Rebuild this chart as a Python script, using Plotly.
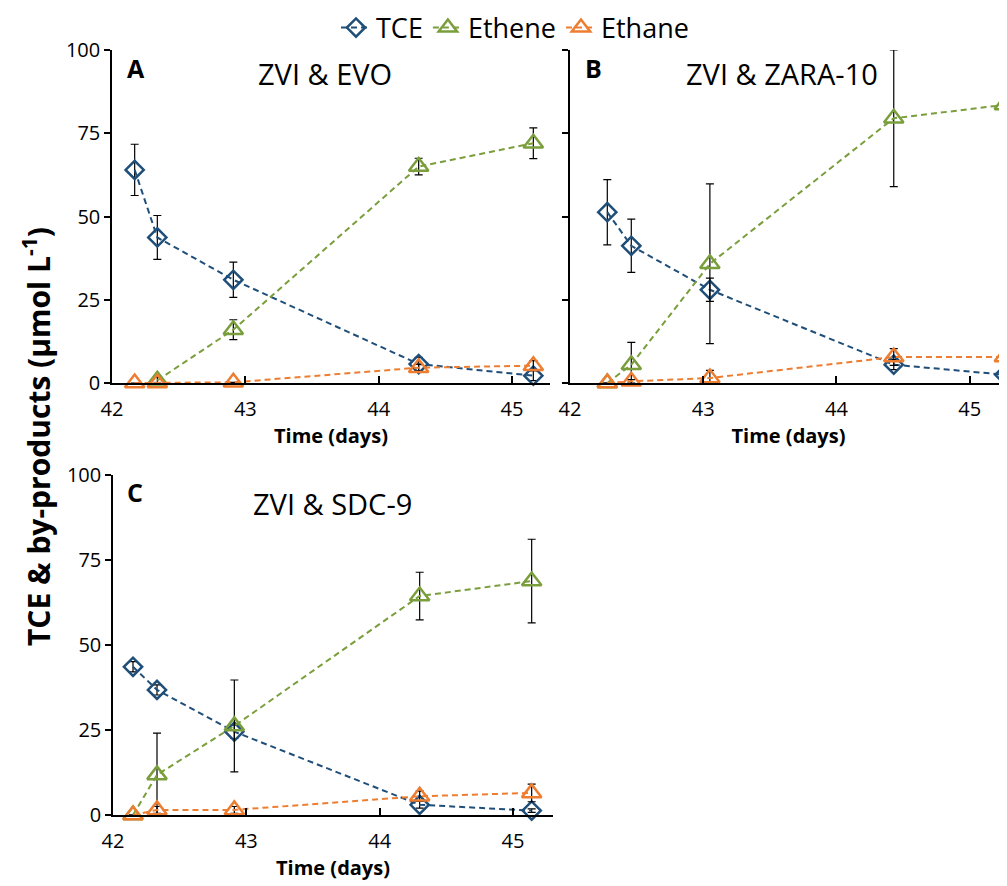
import plotly.graph_objects as go

# ---------------- data ----------------
tA = [42.17, 42.34, 42.91, 44.30, 45.16]
tce_A = [64.0, 43.7, 31.0, 5.7, 2.2]
tce_A_err = [7.7, 6.6, 5.3, 2.0, 1.5]
ethene_A = [None, 0.8, 16.0, 65.0, 72.0]
ethene_A_err = [0, 1.0, 3.0, 2.5, 4.6]
ethane_A = [0.0, 0.0, 0.2, 4.6, 5.2]
ethane_A_err = [0, 0, 0, 1.0, 1.5]

tB = [42.28, 42.46, 43.05, 44.43, 45.26]
tce_B = [51.3, 41.2, 28.0, 5.5, 2.5]
tce_B_err = [9.8, 8.0, 3.5, 1.5, 1.0]
ethene_B = [0.0, 5.5, 35.8, 79.5, 83.5]
ethene_B_err = [0, 6.7, 24.0, 20.5, 12.3]
ethane_B = [0.0, 0.5, 1.5, 7.8, 7.8]
ethane_B_err = [0, 0.5, 2.3, 2.5, 2.5]

tC = [42.15, 42.33, 42.91, 44.30, 45.14]
tce_C = [43.6, 36.8, 24.5, 3.0, 1.3]
tce_C_err = [1.5, 1.5, 2.0, 1.0, 0.5]
ethene_C = [0.0, 11.8, 26.2, 64.4, 68.8]
ethene_C_err = [0, 12.3, 13.5, 7.0, 12.3]
ethane_C = [0.0, 1.5, 1.5, 5.5, 6.5]
ethane_C_err = [0, 1.0, 1.0, 1.5, 2.6]

panel_letters = ["A", "B", "C"]
panel_titles = ["ZVI & EVO", "ZVI & ZARA-10", "ZVI & SDC-9"]
series_names = ["TCE", "Ethene", "Ethane"]
x_ticks = [42, 43, 44, 45]
y_ticks = [0, 25, 50, 75, 100]

# ---------------- styling ----------------
W, H = 1007, 886
OFF_X = 8
OFF_Y = 8
C_TCE = "#1F4E79"
C_ETHENE = "#7A9E3C"
C_ETHANE = "#ED7D31"
FONT = "Open Sans"

def px_x(p):
    return (p - OFF_X) / W

def px_y(p):
    return 1 - (p - OFF_Y) / H

fig = go.Figure()

panels = [
    (tA, [(tce_A, tce_A_err), (ethene_A, ethene_A_err), (ethane_A, ethane_A_err)], "x", "y"),
    (tB, [(tce_B, tce_B_err), (ethene_B, ethene_B_err), (ethane_B, ethane_B_err)], "x2", "y2"),
    (tC, [(tce_C, tce_C_err), (ethene_C, ethene_C_err), (ethane_C, ethane_C_err)], "x3", "y3"),
]
colors = [C_TCE, C_ETHENE, C_ETHANE]
symbols = ["diamond-open", "triangle-up-open", "triangle-up-open"]
sizes = [14, 17, 17]

for pi, (t, series, xa, ya) in enumerate(panels):
    for si, (vals, errs) in enumerate(series):
        fig.add_trace(go.Scatter(
            x=t, y=vals, xaxis=xa, yaxis=ya,
            mode="lines+markers",
            name=series_names[si],
            legendgroup=series_names[si],
            showlegend=(pi == 0),
            line=dict(color=colors[si], width=2, dash="6px,4px"),
            marker=dict(symbol=symbols[si], size=sizes[si], color=colors[si],
                        line=dict(color=colors[si], width=2.5)),
            error_y=dict(type="data", array=errs, visible=True, color="black",
                         thickness=1.2, width=4),
            cliponaxis=False,
            connectgaps=False,
        ))

# axis domains (pixels -> paper)
domains = {
    "A": dict(x=[px_x(112), px_x(550)], y=[px_y(383), px_y(50)], xr=[42, 45.285]),
    "B": dict(x=[px_x(570), px_x(1007)], y=[px_y(383), px_y(50)], xr=[42, 45.28]),
    "C": dict(x=[px_x(113), px_x(553)], y=[px_y(815), px_y(475)], xr=[42, 45.3]),
}

tickfont = dict(family=FONT, size=20, color="black")
axis_names = [("xaxis", "yaxis", "x", "y"), ("xaxis2", "yaxis2", "x2", "y2"), ("xaxis3", "yaxis3", "x3", "y3")]
layout_axes = {}
for i, key in enumerate(["A", "B", "C"]):
    d = domains[key]
    xn, yn, xs, ys = axis_names[i]
    layout_axes[xn] = dict(
        domain=d["x"], range=d["xr"], anchor=ys,
        showline=True, linecolor="black", linewidth=1.5,
        ticks="inside", ticklen=7, tickwidth=1.5, tickcolor="black",
        tickvals=x_ticks, showgrid=False, zeroline=False,
        tickfont=tickfont, automargin=False, ticklabelstandoff=7,
        title=dict(text="<b>Time (days)</b>", font=dict(family=FONT, size=20, color="black"), standoff=5),
    )
    layout_axes[yn] = dict(
        domain=d["y"], range=[0, 100], anchor=xs,
        showline=True, linecolor="black", linewidth=1.5,
        ticks="outside", ticklen=6, tickwidth=1.5, tickcolor="black",
        tickvals=y_ticks, showgrid=False, zeroline=False, automargin=False,
        tickfont=tickfont, showticklabels=(key != "B"),
    )
    # overlay axis for the inner half of the cross ticks
    layout_axes["yaxis%d" % (i + 4)] = dict(
        overlaying=ys, anchor=xs, range=[0, 100], side="left",
        ticks="inside", ticklen=6, tickwidth=1.5, tickcolor="black",
        tickvals=y_ticks, showticklabels=False, showline=False,
        showgrid=False, zeroline=False, automargin=False,
    )

fig.update_layout(**layout_axes)

annotations = []
letter_pos = [(125, 68), (583, 68), (125, 492)]
title_pos = [(325, 73), (782, 73), (332, 503)]
for i in range(3):
    annotations.append(dict(
        text="<b>%s</b>" % panel_letters[i], x=px_x(letter_pos[i][0]), y=px_y(letter_pos[i][1]),
        xref="paper", yref="paper", xanchor="left", yanchor="middle", showarrow=False,
        font=dict(family=FONT, size=25, color="black"),
    ))
    annotations.append(dict(
        text=panel_titles[i], x=px_x(title_pos[i][0]), y=px_y(title_pos[i][1]),
        xref="paper", yref="paper", xanchor="center", yanchor="middle", showarrow=False,
        font=dict(family=FONT, size=29, color="black"),
    ))
annotations.append(dict(
    text="<b>TCE & by-products (µmol L<sup>-1</sup>)</b>", x=px_x(37), y=px_y(437),
    xref="paper", yref="paper", xanchor="center", yanchor="middle", showarrow=False,
    textangle=-90, font=dict(family=FONT, size=30, color="black"),
))

fig.update_layout(
    width=W, height=H,
    margin=dict(l=0, r=0, t=0, b=0, autoexpand=False),
    paper_bgcolor="white", plot_bgcolor="white",
    annotations=annotations,
    showlegend=True,
    legend=dict(orientation="h", x=px_x(515), y=px_y(28), xanchor="center", yanchor="middle",
                font=dict(family=FONT, size=27, color="black"),
                itemwidth=30, tracegroupgap=0, bgcolor="rgba(0,0,0,0)"),
    font=dict(family=FONT, color="black"),
)

fig.write_html("out.html")
